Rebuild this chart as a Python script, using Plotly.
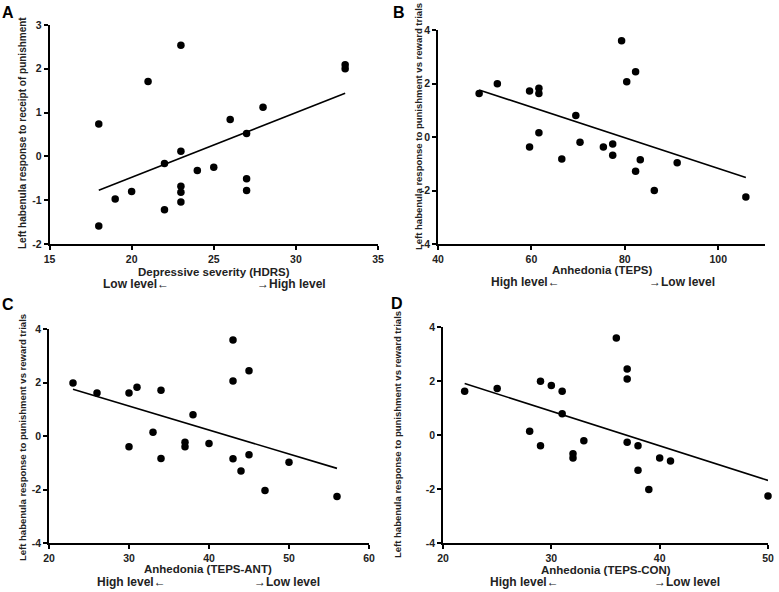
import numpy as np
import plotly.graph_objects as go

W, H = 779, 592

# ---------------- data ----------------
hdrs = [18, 18, 19, 20, 21, 22, 22, 23, 23, 23, 23, 23, 24, 25, 26, 27, 27, 27, 28, 33, 33]
resp_punish = [0.74, -1.59, -0.97, -0.80, 1.71, -0.16, -1.22, 2.54, 0.12, -0.68, -0.82, -1.04,
               -0.32, -0.25, 0.84, 0.52, -0.51, -0.78, 1.12, 2.09, 2.00]

teps = [48.8, 52.7, 59.6, 59.6, 61.6, 61.6, 61.6, 66.5, 69.5, 70.4, 75.4, 77.4, 77.4, 79.3,
        80.4, 82.3, 82.3, 83.3, 86.3, 91.2, 105.9]
resp_b = [1.63, 1.99, 1.72, -0.37, 1.82, 1.63, 0.16, -0.82, 0.80, -0.20, -0.37, -0.26, -0.68,
          3.60, 2.07, 2.44, -1.28, -0.85, -2.00, -0.96, -2.24]

teps_ant = [23, 26, 30, 30, 31, 33, 34, 34, 37, 37, 38, 40, 43, 43, 43, 44, 45, 45, 47, 50, 56]
resp_c = [1.98, 1.61, 1.61, -0.40, 1.82, 0.14, 1.71, -0.84, -0.23, -0.40, 0.79, -0.28, 3.59,
          2.06, -0.85, -1.31, 2.44, -0.70, -2.04, -0.98, -2.26]

teps_con = [22, 25, 28, 29, 29, 30, 31, 31, 32, 32, 33, 36, 37, 37, 37, 38, 38, 39, 40, 41, 50]
resp_d = [1.62, 1.72, 0.14, 1.99, -0.40, 1.83, 1.62, 0.79, -0.69, -0.85, -0.21, 3.59, 2.44,
          2.07, -0.27, -0.40, -1.31, -2.02, -0.85, -0.96, -2.26]

panel_letters = ["A", "B", "C", "D"]
x_titles = ["Depressive severity (HDRS)", "Anhedonia (TEPS)", "Anhedonia (TEPS-ANT)", "Anhedonia (TEPS-CON)"]
y_titles = ["Left habenula response to receipt of punishment",
            "Left habenula response to punishment vs reward trials",
            "Left habenula response to punishment vs reward trials",
            "Left habenula response to punishment vs reward trials"]
left_notes = ["Low level\u2190", "High level\u2190", "High level\u2190", "High level\u2190"]
right_notes = ["\u2192High level", "\u2192Low level", "\u2192Low level", "\u2192Low level"]

x_ranges = [[15, 35], [40, 110], [20, 60], [20, 50]]
x_ticks = [[15, 20, 25, 30, 35], [40, 60, 80, 100], [20, 30, 40, 50, 60], [20, 30, 40, 50]]
y_ranges = [[-2, 3], [-4, 4], [-4, 4], [-4, 4]]
y_ticks = [[-2, -1, 0, 1, 2, 3], [-4, -2, 0, 2, 4], [-4, -2, 0, 2, 4], [-4, -2, 0, 2, 4]]

panels = [(hdrs, resp_punish), (teps, resp_b), (teps_ant, resp_c), (teps_con, resp_d)]

# ---------------- layout geometry (pixels) ----------------
def fx(p):
    return p / W

def fy(p):
    return 1 - p / H

boxes = [  # x0, x1, ytop, ybottom in pixels
    (49.5, 378, 25, 244),
    (438, 765, 30, 244),
    (49, 369, 329, 543),
    (443, 768, 327, 543),
]
letter_pos = [(8, 12), (399, 13), (8, 304), (397, 303)]
ytitle_x = [22, 419, 22, 397]
ytitle_cy = [133, 127, 438, 435]
ytitle_size = [10, 9.5, 9.5, 9.5]
xtitle_x = [214, 602, 208, 606]
xtitle_y = [272, 270, 569, 570]
note_y = [284, 282, 582, 582]
left_note_x = [136, 525, 131, 524]
right_note_x = [291, 682, 287, 687]

TXT = "#222222"
FONT = "Liberation Sans, Arial, sans-serif"

fig = go.Figure()
annotations = []

for i, (xs, ys) in enumerate(panels):
    ax = "" if i == 0 else str(i + 1)
    fig.add_trace(go.Scatter(
        x=xs, y=ys, mode="markers",
        marker=dict(color="black", size=7.5),
        xaxis="x" + ax, yaxis="y" + ax, showlegend=False, cliponaxis=False,
    ))
    m, b = np.polyfit(np.array(xs, float), np.array(ys, float), 1)
    xl = np.array([min(xs), max(xs)], float)
    fig.add_trace(go.Scatter(
        x=xl, y=m * xl + b, mode="lines",
        line=dict(color="black", width=1.6),
        xaxis="x" + ax, yaxis="y" + ax, showlegend=False, cliponaxis=False,
    ))
    x0, x1, yt, yb = boxes[i]
    axis_common = dict(
        showgrid=False, zeroline=False, showline=True, linecolor="black", linewidth=1.8,
        ticks="outside", ticklen=4, tickwidth=1.5, tickcolor="black", automargin=False,
        tickfont=dict(family=FONT, size=10.5, color=TXT, weight="bold"),
    )
    fig.layout["xaxis" + ax] = dict(
        domain=[fx(x0), fx(x1)], range=x_ranges[i], anchor="y" + ax,
        tickvals=x_ticks[i], ticktext=[str(t) for t in x_ticks[i]], **axis_common)
    fig.layout["yaxis" + ax] = dict(
        domain=[fy(yb), fy(yt)], range=y_ranges[i], anchor="x" + ax,
        tickvals=y_ticks[i], ticktext=[str(t) for t in y_ticks[i]], **axis_common)

    lx, ly = letter_pos[i]
    annotations.append(dict(x=fx(lx), y=fy(ly), xref="paper", yref="paper", text=panel_letters[i],
                            showarrow=False, xanchor="center", yanchor="middle",
                            font=dict(family=FONT, size=16, color="black", weight="bold")))
    annotations.append(dict(x=fx(ytitle_x[i]), y=fy(ytitle_cy[i]), xref="paper", yref="paper",
                            text=y_titles[i], textangle=-90, showarrow=False,
                            xanchor="center", yanchor="middle",
                            font=dict(family=FONT, size=ytitle_size[i], color=TXT, weight="bold")))
    annotations.append(dict(x=fx(xtitle_x[i]), y=fy(xtitle_y[i]), xref="paper", yref="paper",
                            text=x_titles[i], showarrow=False, xanchor="center", yanchor="middle",
                            font=dict(family=FONT, size=11.5, color=TXT, weight="bold")))
    annotations.append(dict(x=fx(left_note_x[i]), y=fy(note_y[i]), xref="paper", yref="paper",
                            text=left_notes[i], showarrow=False, xanchor="center", yanchor="middle",
                            font=dict(family=FONT, size=12, color=TXT, weight="bold")))
    annotations.append(dict(x=fx(right_note_x[i]), y=fy(note_y[i]), xref="paper", yref="paper",
                            text=right_notes[i], showarrow=False, xanchor="center", yanchor="middle",
                            font=dict(family=FONT, size=12, color=TXT, weight="bold")))

fig.update_layout(
    width=W, height=H, margin=dict(l=0, r=0, t=0, b=0),
    paper_bgcolor="white", plot_bgcolor="white",
    annotations=annotations, showlegend=False,
)

fig.write_html("out.html", config={"displayModeBar": False},
               post_script="document.body.style.margin='0';document.body.style.overflow='hidden';")
